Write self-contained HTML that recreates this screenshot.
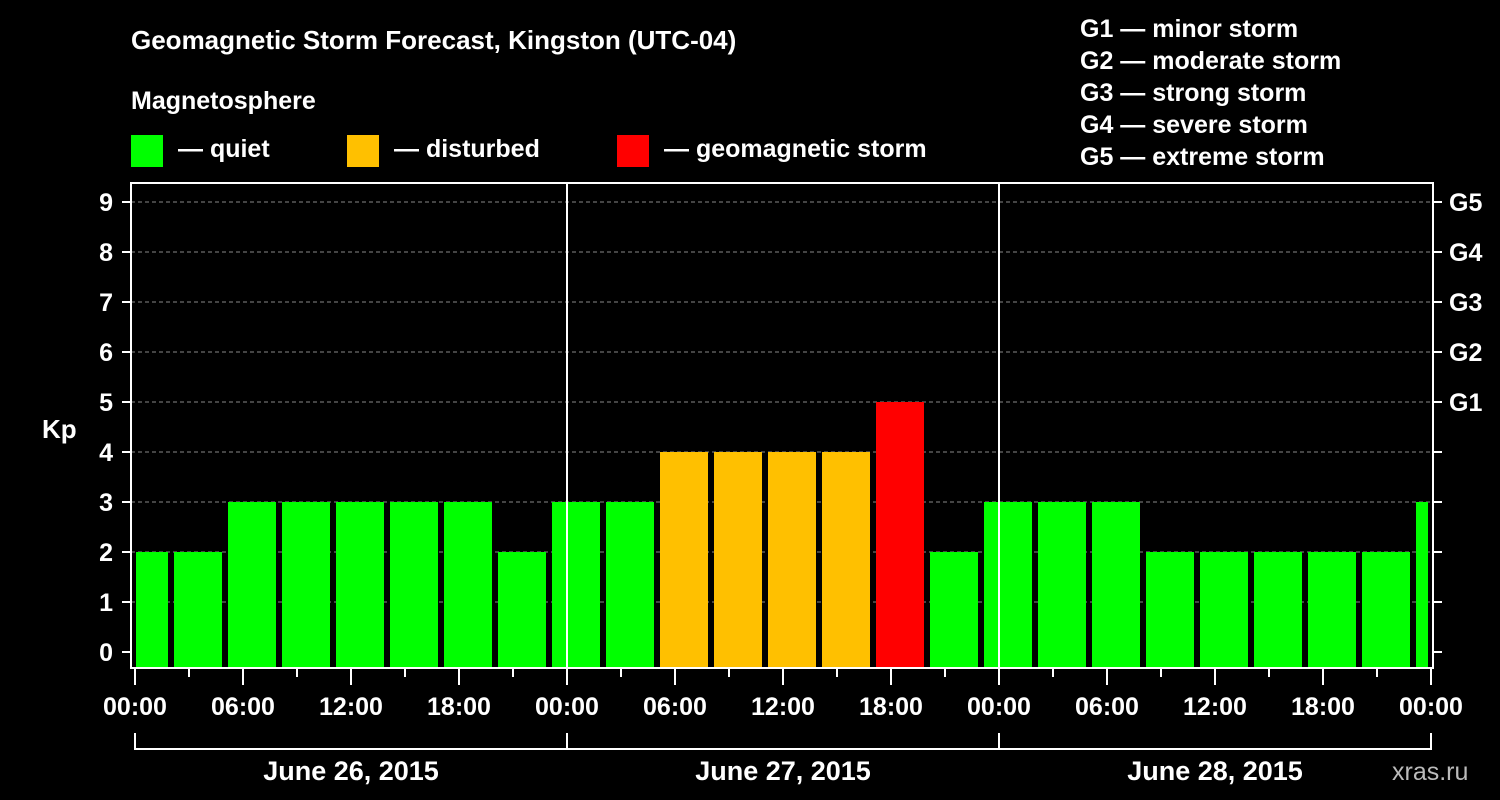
<!DOCTYPE html>
<html><head><meta charset="utf-8"><style>
body{margin:0;background:#000;width:1500px;height:800px;overflow:hidden}
svg{display:block}
text{font-family:"Liberation Sans",Arial,sans-serif;font-weight:bold;fill:#fff}
</style></head><body>
<svg id="c" width="1500" height="800">
<text x="131" y="49" font-size="26">Geomagnetic Storm Forecast, Kingston (UTC-04)</text>
<text x="131" y="109" font-size="25">Magnetosphere</text>
<rect x="131" y="135" width="32" height="32" fill="#00ff00"/>
<text x="178" y="157" font-size="25">— quiet</text>
<rect x="347" y="135" width="32" height="32" fill="#ffc000"/>
<text x="394" y="157" font-size="25">— disturbed</text>
<rect x="617" y="135" width="32" height="32" fill="#ff0000"/>
<text x="664" y="157" font-size="25">— geomagnetic storm</text>
<g font-size="25">
<text x="1080" y="37">G1 — minor storm</text>
<text x="1080" y="69">G2 — moderate storm</text>
<text x="1080" y="101">G3 — strong storm</text>
<text x="1080" y="133">G4 — severe storm</text>
<text x="1080" y="165">G5 — extreme storm</text>
</g>
<text x="42" y="438" font-size="26">Kp</text>
<text x="1392" y="780" font-size="25" fill="#bbb" style="fill:#bbb;font-weight:normal">xras.ru</text>
<g id="plot"></g>
</svg>
<script>
const kpValues=[2,2,3,3,3,3,3,2,3,3,4,4,4,4,5,2,3,3,3,2,2,2,2,2,3];
const yTicks=[0,1,2,3,4,5,6,7,8,9];
const gLabels=["G1","G2","G3","G4","G5"];
const xTickLabels=["00:00","06:00","12:00","18:00","00:00","06:00","12:00","18:00","00:00","06:00","12:00","18:00","00:00"];
const dayLabels=["June 26, 2015","June 27, 2015","June 28, 2015"];
const binStartHour=-1, binHours=3;
const X0=135,PX_H=18,L=131,R=1433,T=183,B=668;
const x=h=>X0+h*PX_H;
const y=v=>652-v*50;
const ns="http://www.w3.org/2000/svg";
const g=document.getElementById('plot');
function mk(t,a){const e=document.createElementNS(ns,t);for(const k in a)e.setAttribute(k,a[k]);g.appendChild(e);return e;}
yTicks.forEach(v=>{if(v>0){const l=mk('line',{x1:L,x2:R,y1:y(v),y2:y(v),stroke:'#888','stroke-dasharray':'4,3'});

}
const t=mk('text',{x:113,y:y(v)+9,'font-size':25,'text-anchor':'end'});t.textContent=v;


mk('line',{x1:122,x2:L,y1:y(v),y2:y(v),stroke:'#fff','stroke-width':2});
mk('line',{x1:R,x2:1442,y1:y(v),y2:y(v),stroke:'#fff','stroke-width':2});});
gLabels.forEach((s,i)=>{const t=mk('text',{x:1449,y:y(5+i)+9,'font-size':25});t.textContent=s;

});
kpValues.forEach((v,i)=>{let s=x(binStartHour+i*binHours)+3,e=x(binStartHour+(i+1)*binHours)-3;
s=Math.max(s,x(0)+1);e=Math.min(e,x(72)-3);
const c=v>=5?'#ff0000':v>=4?'#ffc000':'#00ff00';
const r=mk('rect',{x:s,y:y(v),width:e-s,height:B-y(v),fill:c});

});
[24,48].forEach(h=>mk('line',{x1:x(h),x2:x(h),y1:T,y2:B,stroke:'#fff','stroke-width':2}));
const f=mk('rect',{x:L,y:T,width:R-L,height:B-T,fill:'none',stroke:'#fff','stroke-width':2});


for(let h=0;h<=72;h+=3){const maj=h%6==0;mk('line',{x1:x(h),x2:x(h),y1:B,y2:B+(maj?17:9),stroke:'#fff','stroke-width':2});}
xTickLabels.forEach((s,i)=>{const t=mk('text',{x:x(i*6),y:715,'font-size':25,'text-anchor':'middle'});t.textContent=s;

});
mk('line',{x1:x(0),x2:x(72),y1:749,y2:749,stroke:'#fff','stroke-width':2});
[0,24,48,72].forEach(h=>mk('line',{x1:x(h),x2:x(h),y1:733,y2:750,stroke:'#fff','stroke-width':2}));
dayLabels.forEach((s,i)=>{const t=mk('text',{x:x(i*24+12),y:780,'font-size':27,'text-anchor':'middle'});t.textContent=s;

});
</script>
</body></html>
